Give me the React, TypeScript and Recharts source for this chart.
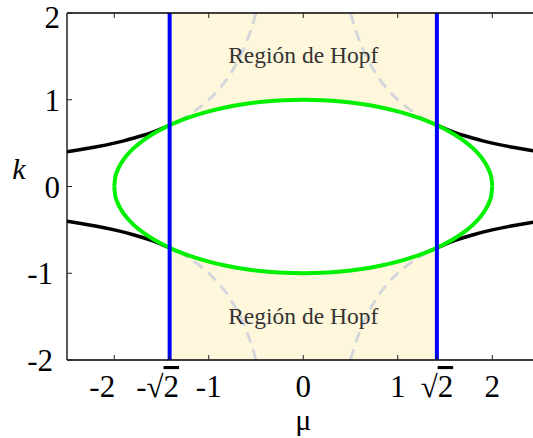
import React from 'react';
import { ComposedChart, Area, Line, XAxis, YAxis, ReferenceDot } from 'recharts';

// ellipse mu^2/4 + k^2 = 1, upper half
const ellipseMu = [-2, -1.99, -1.97, -1.94, -1.9, -1.85, -1.8, -1.7, -1.6, -1.5, -1.414, -1.3, -1.2, -1.0, -0.8, -0.6, -0.4, -0.2, 0,
  0.2, 0.4, 0.6, 0.8, 1.0, 1.2, 1.3, 1.414, 1.5, 1.6, 1.7, 1.8, 1.85, 1.9, 1.94, 1.97, 1.99, 2];
const ellipseK = [0, 0.1, 0.173, 0.243, 0.312, 0.38, 0.436, 0.527, 0.6, 0.661, 0.707, 0.76, 0.8, 0.866, 0.917, 0.954, 0.98, 0.995, 1,
  0.995, 0.98, 0.954, 0.917, 0.866, 0.8, 0.76, 0.707, 0.661, 0.6, 0.527, 0.436, 0.38, 0.312, 0.243, 0.173, 0.1, 0];

// k = 1/mu outside the Hopf strip (solid black)
const outerMu = [1.414, 1.5, 1.6, 1.7, 1.8, 1.9, 2.0, 2.2, 2.4, 2.5];
const outerK = [0.707, 0.667, 0.625, 0.588, 0.556, 0.526, 0.5, 0.455, 0.417, 0.4];

// k = 1/mu inside the Hopf strip (dashed grey)
const innerMu = [0.5, 0.55, 0.6, 0.65, 0.7, 0.8, 0.9, 1.0, 1.1, 1.2, 1.3, 1.414];
const innerK = [2.0, 1.818, 1.667, 1.538, 1.429, 1.25, 1.111, 1.0, 0.909, 0.833, 0.769, 0.707];

const hopfEdges = [-1.414, 1.414];
const kRange = [-2, 2];

const xTicks = [-2, -1.414, -1, 0, 1, 1.414, 2];
const xTickLabels = ['-2', '-√2', '-1', '0', '1', '√2', '2'];
const topTicks = [-2, -1, 0, 1, 2];
const yTicks = [-2, -1, 0, 1, 2];

const FONT = '"Liberation Serif", "Times New Roman", serif';
const X_DOMAIN = [-2.5, 2.431];

const ellipseData = ellipseMu.map((mu, i) => ({ mu, up: ellipseK[i], lo: -ellipseK[i], band: [-ellipseK[i], ellipseK[i]] }));

const branch = (mus: number[], ks: number[], sx: number, sy: number) =>
  mus.map((m, i) => ({ mu: sx * m, k: sy * ks[i] }));

const quadrants = [[1, 1], [1, -1], [-1, 1], [-1, -1]];
const outerBranches = quadrants.map(([sx, sy]) => branch(outerMu, outerK, sx, sy));
const innerBranches = quadrants.map(([sx, sy]) => branch(innerMu, innerK, sx, sy));

const shadeData = hopfEdges.map((mu) => ({ mu, shade: kRange }));

const BottomTick = (props: any) => {
  const { x, y, payload, index } = props;
  const label = xTickLabels[index] ?? String(payload.value);
  const shift = label === '-2' || label === '-√2' ? -12 : 0;
  const hasRoot = label.includes('√');
  return (
    <g>
      <line x1={x} y1={y} x2={x} y2={y - 5} stroke="#222" strokeWidth={1} />
      <text x={x + shift} y={y + 37} textAnchor="middle" fontFamily={FONT} fontSize={31} fill="#000">
        {hasRoot ? (
          <>
            {label.replace('2', '')}
            <tspan style={{ textDecoration: 'overline' }}>2</tspan>
          </>
        ) : label}
      </text>
    </g>
  );
};

const TopTick = (props: any) => {
  const { x, y } = props;
  return <line x1={x} y1={y} x2={x} y2={y + 5} stroke="#222" strokeWidth={1} />;
};

const LeftTick = (props: any) => {
  const { x, y, payload } = props;
  const v = payload.value;
  // keep the top label inside the canvas
  const baseline = Math.max(y + 11, 28);
  return (
    <g>
      <line x1={x} y1={y} x2={x + 5} y2={y} stroke="#222" strokeWidth={1} />
      <text x={v < 0 ? x - 14 : x - 7} y={baseline} textAnchor="end" fontFamily={FONT} fontSize={31} fill="#000">
        {String(v)}
      </text>
    </g>
  );
};

const hopfLabel = (p: any) => (
  <text x={p.cx} y={p.cy} dy={8} textAnchor="middle" fontFamily={FONT} fontSize={23.5} fill="#333">
    Región de Hopf
  </text>
);

export default function App() {
  return (
    <div style={{ position: 'absolute', left: 0, top: 0, background: '#fff' }}>
      <ComposedChart width={533} height={438} data={ellipseData} margin={{ top: 12, right: 0, left: 66, bottom: 77 }}>
        <XAxis
          dataKey="mu"
          type="number"
          domain={X_DOMAIN}
          allowDataOverflow
          ticks={xTicks}
          tick={<BottomTick />}
          tickLine={false}
          tickSize={0}
          tickMargin={0}
          height={1}
          interval={0}
          axisLine={{ stroke: '#000', strokeWidth: 1.3 }}
        />
        <XAxis
          xAxisId="top"
          orientation="top"
          dataKey="mu"
          type="number"
          domain={X_DOMAIN}
          allowDataOverflow
          ticks={topTicks}
          tick={<TopTick />}
          tickLine={false}
          tickSize={0}
          tickMargin={0}
          height={1}
          interval={0}
          axisLine={{ stroke: '#000', strokeWidth: 1.3 }}
        />
        <YAxis
          type="number"
          domain={[-2, 2]}
          allowDataOverflow
          ticks={yTicks}
          tick={<LeftTick />}
          tickLine={false}
          tickSize={0}
          tickMargin={0}
          width={1}
          interval={0}
          axisLine={{ stroke: '#000', strokeWidth: 1.3 }}
        />

        {/* Hopf strip and the white ellipse interior */}
        <Area data={shadeData} dataKey="shade" type="linear" fill="#FEF7DC" fillOpacity={1} stroke="none" isAnimationActive={false} />
        <Area dataKey="band" type="monotone" fill="#fff" fillOpacity={1} stroke="none" isAnimationActive={false} />

        {innerBranches.map((d, i) => (
          <Line key={`in-${i}`} data={d} dataKey="k" type="monotone" stroke="#D2D5DC" strokeWidth={2.8}
            strokeDasharray="11 7" dot={false} activeDot={false} isAnimationActive={false} />
        ))}
        {outerBranches.map((d, i) => (
          <Line key={`out-${i}`} data={d} dataKey="k" type="monotone" stroke="#000" strokeWidth={3.5}
            dot={false} activeDot={false} isAnimationActive={false} />
        ))}

        <Line dataKey="up" type="monotone" stroke="#00F000" strokeWidth={4} dot={false} activeDot={false} isAnimationActive={false} />
        <Line dataKey="lo" type="monotone" stroke="#00F000" strokeWidth={4} dot={false} activeDot={false} isAnimationActive={false} />

        {hopfEdges.map((mu) => (
          <Line key={`edge-${mu}`} data={kRange.map((k) => ({ mu, k }))} dataKey="k" type="linear" stroke="#0000FF"
            strokeWidth={4} dot={false} activeDot={false} isAnimationActive={false} />
        ))}

        <ReferenceDot x={0} y={1.52} r={0} ifOverflow="visible" shape={hopfLabel} />
        <ReferenceDot x={0} y={-1.49} r={0} ifOverflow="visible" shape={hopfLabel} />
        <ReferenceDot x={0} y={-2} r={0} ifOverflow="visible"
          shape={(p: any) => (
            <text x={p.cx} y={p.cy + 70} textAnchor="middle" fontFamily={FONT} fontSize={30} fill="#000">μ</text>
          )} />
        <ReferenceDot x={-2.5} y={0} r={0} ifOverflow="visible"
          shape={(p: any) => (
            <text x={p.cx - 48} y={p.cy - 8} textAnchor="middle" fontFamily={FONT} fontStyle="italic" fontSize={30} fill="#000">k</text>
          )} />
      </ComposedChart>
    </div>
  );
}
